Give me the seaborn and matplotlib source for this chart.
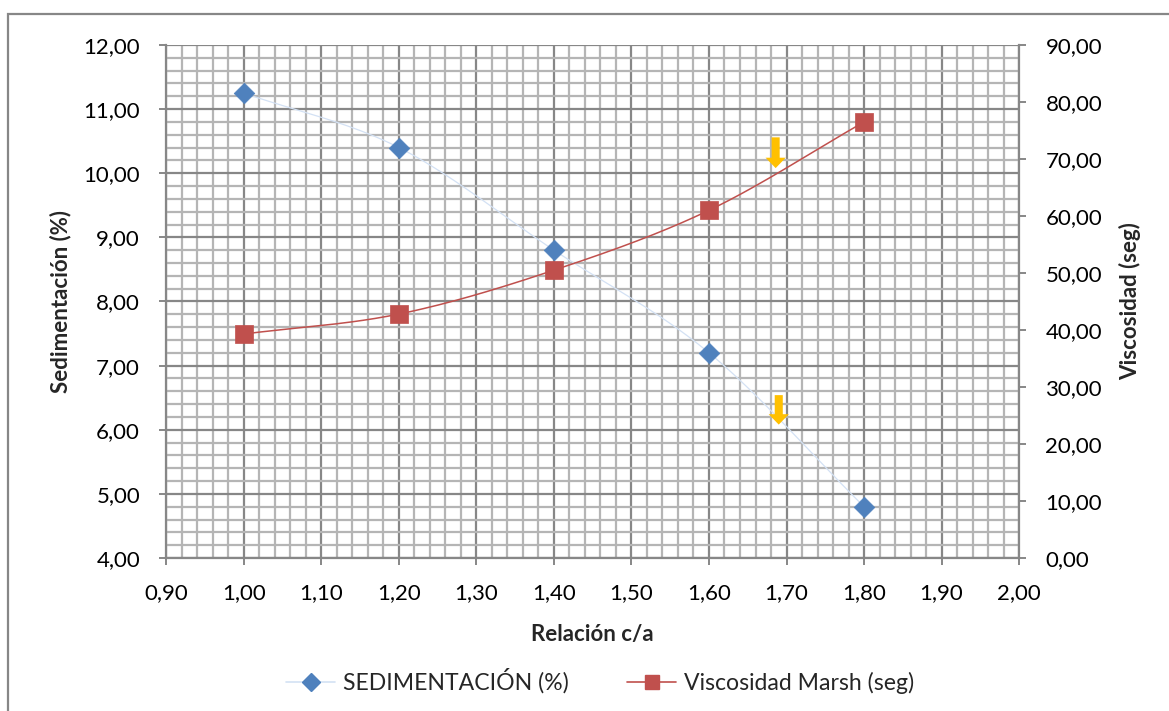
import numpy as np
import pandas as pd
import matplotlib
matplotlib.use("Agg")
import matplotlib.pyplot as plt
import seaborn as sns
from matplotlib.lines import Line2D
from matplotlib.patches import Rectangle
from matplotlib.ticker import MultipleLocator, FuncFormatter

# --- data ---
relacion = [1.00, 1.20, 1.40, 1.60, 1.80]
sedimentacion = [11.25, 10.40, 8.80, 7.20, 4.80]
viscosidad = [39.3, 42.8, 50.5, 61.0, 76.5]

# down arrows: (x, y_top, y_bottom) in Sedimentación units
arrow_x = [1.686, 1.690]
arrow_top = [10.56, 6.54]
arrow_bottom = [10.08, 6.08]

label_sed = "SEDIMENTACIÓN (%)"
label_vis = "Viscosidad Marsh (seg)"

sns.set_theme(style="white")
plt.rcParams["font.family"] = ["Lato", "DejaVu Sans"]

BLUE = "#4f81bd"
BLUE_LINE = "#d3e1f4"
RED = "#c0504d"
GRID_MAJOR = "#878787"
GRID_MINOR = "#b5b5b5"
ARROW = "#ffc000"


def smooth(xs, ys, n=40):
    """Catmull-Rom style curve through the points (spreadsheet 'smoothed line')."""
    xs = np.asarray(xs, float)
    ys = np.asarray(ys, float)
    px = np.concatenate([[2 * xs[0] - xs[1]], xs, [2 * xs[-1] - xs[-2]]])
    py = np.concatenate([[2 * ys[0] - ys[1]], ys, [2 * ys[-1] - ys[-2]]])
    outx, outy = [], []
    t = np.linspace(0, 1, n)
    for i in range(1, len(px) - 2):
        for arr, out in ((px, outx), (py, outy)):
            p0, p1, p2, p3 = arr[i - 1], arr[i], arr[i + 1], arr[i + 2]
            seg = 0.5 * ((2 * p1) + (-p0 + p2) * t
                         + (2 * p0 - 5 * p1 + 4 * p2 - p3) * t ** 2
                         + (-p0 + 3 * p1 - 3 * p2 + p3) * t ** 3)
            out.extend(seg if i == 1 else seg[1:])
    return np.array(outx), np.array(outy)


fig = plt.figure(figsize=(11.69, 7.11), dpi=100)
fig.patch.set_facecolor("white")
ax = fig.add_axes([0.1424, 0.2152, 0.7293, 0.7215])
ax2 = ax.twinx()

# primary axis: Sedimentación
ax.set_xlim(0.90, 2.00)
ax.set_ylim(4.0, 12.0)
ax.xaxis.set_major_locator(MultipleLocator(0.1))
ax.xaxis.set_minor_locator(MultipleLocator(0.02))
ax.yaxis.set_major_locator(MultipleLocator(1.0))
ax.yaxis.set_minor_locator(MultipleLocator(0.2))
ax.grid(which="minor", color=GRID_MINOR, linewidth=1.6)
ax.grid(which="major", color=GRID_MAJOR, linewidth=1.6)
ax.set_axisbelow(True)

comma = FuncFormatter(lambda v, p: f"{v:.2f}".replace(".", ","))
ax.xaxis.set_major_formatter(comma)
ax.yaxis.set_major_formatter(comma)

sx, sy = smooth(relacion, sedimentacion)
ax.plot(sx, sy, color=BLUE_LINE, linewidth=0.9, zorder=3)
df_sed = pd.DataFrame({"x": relacion, "y": sedimentacion})
sns.scatterplot(data=df_sed, x="x", y="y", ax=ax, marker="D", s=110,
                color=BLUE, edgecolor=BLUE, linewidth=0.5, zorder=4)

for xa, yt, yb in zip(arrow_x, arrow_top, arrow_bottom):
    ax.annotate("", xy=(xa, yb), xytext=(xa, yt),
                arrowprops=dict(arrowstyle="simple,head_length=0.75,head_width=1.45,tail_width=0.58",
                                mutation_scale=10, color=ARROW, shrinkA=0, shrinkB=0,
                                linewidth=0),
                zorder=5)

# secondary axis: Viscosidad
ax2.set_ylim(0, 90)
ax2.yaxis.set_major_locator(MultipleLocator(10))
ax2.yaxis.set_major_formatter(comma)
ax2.grid(False)
vx, vy = smooth(relacion, viscosidad)
ax2.plot(vx, vy, color=RED, linewidth=1.1, zorder=3)
df_vis = pd.DataFrame({"x": relacion, "y": viscosidad})
sns.scatterplot(data=df_vis, x="x", y="y", ax=ax2, marker="s", s=150,
                color=RED, edgecolor=RED, linewidth=0.5, zorder=4)

for a in (ax, ax2):
    for side in ("top", "left", "right", "bottom"):
        a.spines[side].set_visible(False)
ax.spines["left"].set_visible(True)
ax.spines["bottom"].set_visible(True)
ax2.spines["right"].set_visible(True)
for sp in (ax.spines["left"], ax.spines["bottom"], ax2.spines["right"]):
    sp.set_color(GRID_MAJOR)
    sp.set_linewidth(1.6)

tick_kw = dict(direction="out", length=5, width=1.4,
               color=GRID_MAJOR, labelsize=16, labelcolor="black")
ax.tick_params(axis="x", which="major", bottom=True, pad=13, **tick_kw)
ax.tick_params(axis="y", which="major", left=True, pad=14, **tick_kw)
ax.tick_params(axis="both", which="minor", length=0)
ax2.tick_params(axis="y", which="major", right=True, pad=14, **tick_kw)

ax.set_xlabel("Relación c/a", fontsize=16, fontweight="bold", labelpad=15)
ax.set_ylabel("Sedimentación (%)", fontsize=16, fontweight="bold", labelpad=9)
ax2.set_ylabel("Viscosidad (seg)", fontsize=16, fontweight="bold", labelpad=12)

handles = [
    Line2D([], [], color=BLUE_LINE, linewidth=1.2, marker="D", markersize=9,
           markerfacecolor=BLUE, markeredgecolor=BLUE),
    Line2D([], [], color=RED, linewidth=1.2, marker="s", markersize=10,
           markerfacecolor=RED, markeredgecolor=RED),
]
fig.legend(handles, [label_sed, label_vis], loc="center", bbox_to_anchor=(0.5135, 0.042),
           ncol=2, frameon=False, fontsize=16.6, handlelength=2.1, columnspacing=2.55,
           handletextpad=0.35)

# outer chart frame
fig.patches.append(Rectangle((8 / 1169, -0.05), 1.2, 1 - 14 / 711 + 0.05,
                             transform=fig.transFigure, fill=False,
                             edgecolor=GRID_MAJOR, linewidth=1.6))

fig.savefig("out.png", dpi=100, facecolor="white")
